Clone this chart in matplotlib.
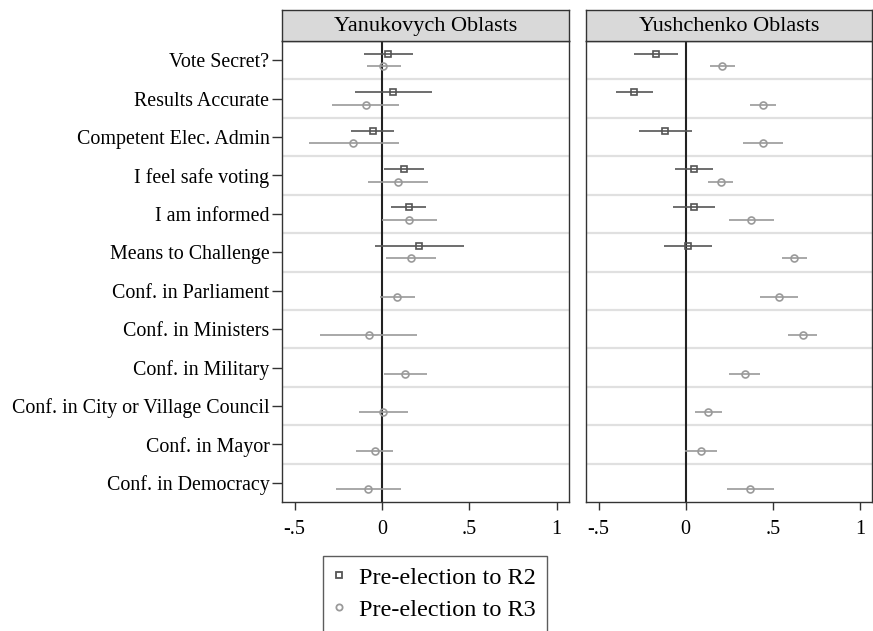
import matplotlib.pyplot as plt
import numpy as np

plt.rcParams["font.family"] = ["Liberation Serif", "DejaVu Serif"]

labels = ["Vote Secret?", "Results Accurate", "Competent Elec. Admin",
          "I feel safe voting", "I am informed", "Means to Challenge",
          "Conf. in Parliament", "Conf. in Ministers", "Conf. in Military",
          "Conf. in City or Village Council", "Conf. in Mayor", "Conf. in Democracy"]

# Yanukovych oblasts: point estimate, lower, upper
yan_r2 = [0.034, 0.061, -0.050, 0.126, 0.153, 0.212]
yan_r2_lo = [-0.100, -0.157, -0.176, 0.011, 0.050, -0.042]
yan_r2_hi = [0.176, 0.284, 0.071, 0.240, 0.254, 0.468]
yan_r3 = [0.008, -0.094, -0.164, 0.090, 0.153, 0.166, 0.084, -0.076, 0.134, 0.008, -0.042, -0.080]
yan_r3_lo = [-0.088, -0.286, -0.420, -0.082, -0.002, 0.023, -0.011, -0.355, 0.013, -0.134, -0.147, -0.261]
yan_r3_hi = [0.107, 0.095, 0.095, 0.263, 0.313, 0.309, 0.187, 0.200, 0.256, 0.147, 0.063, 0.107]

# Yushchenko oblasts
yus_r2 = [-0.170, -0.295, -0.118, 0.049, 0.046, 0.015]
yus_r2_lo = [-0.295, -0.402, -0.265, -0.059, -0.071, -0.122]
yus_r2_hi = [-0.044, -0.189, 0.036, 0.158, 0.171, 0.152]
yus_r3 = [0.209, 0.444, 0.444, 0.202, 0.375, 0.623, 0.535, 0.672, 0.339, 0.131, 0.086, 0.369]
yus_r3_lo = [0.139, 0.369, 0.329, 0.131, 0.249, 0.552, 0.428, 0.590, 0.249, 0.053, -0.002, 0.236]
yus_r3_hi = [0.284, 0.518, 0.560, 0.272, 0.508, 0.695, 0.646, 0.756, 0.428, 0.209, 0.179, 0.508]

panels = ["Yanukovych Oblasts", "Yushchenko Oblasts"]
xticks = [-0.5, 0, 0.5, 1]
xticklabels = ["-.5", "0", ".5", "1"]

c_r2 = "#555555"
c_r3 = "#9a9a9a"

W, H = 873, 631
fig = plt.figure(figsize=(W / 100, H / 100), dpi=100)


def px_box(x0, x1, y0, y1):
    return [x0 / W, 1 - y1 / H, (x1 - x0) / W, (y1 - y0) / H]


def draw_panel(ax, r2, r2lo, r2hi, r3, r3lo, r3hi, show_y):
    n = len(labels)
    pos = np.arange(1, n + 1)
    for s in np.arange(1.5, n, 1):
        ax.axhline(s, color="#e0e0e0", lw=1.6, zorder=1)
    ax.axvline(0, color="#222222", lw=1.5, zorder=2)
    p2 = pos[:len(r2)] - 0.17
    p3 = pos + 0.16
    r2 = np.array(r2)
    r3 = np.array(r3)
    ax.errorbar(r2, p2, xerr=[r2 - np.array(r2lo), np.array(r2hi) - r2], fmt="s",
                color=c_r2, ms=5, mfc="none", mec=c_r2, mew=1.2, elinewidth=1.2,
                capsize=0, zorder=3)
    ax.errorbar(r3, p3, xerr=[r3 - np.array(r3lo), np.array(r3hi) - r3], fmt="o",
                color=c_r3, ms=5, mfc="none", mec=c_r3, mew=1.2, elinewidth=1.2,
                capsize=0, zorder=3)
    ax.set_xlim(-0.572, 1.07)
    ax.set_ylim(n + 0.5, 0.5)
    ax.set_xticks(xticks)
    ax.set_xticklabels(xticklabels, fontsize=14.5)
    ax.tick_params(axis="x", direction="out", length=6, width=1, color="#333333", pad=7)
    if show_y:
        ax.set_yticks(pos)
        ax.set_yticklabels(labels, fontsize=14.4)
        ax.tick_params(axis="y", direction="out", length=7, width=1, color="#333333", pad=2)
    else:
        ax.set_yticks([])
    for sp in ax.spines.values():
        sp.set_color("#333333")
        sp.set_linewidth(1.0)


def draw_strip(rect, title):
    st = fig.add_axes(rect)
    st.set_facecolor("#d9d9d9")
    st.set_xticks([])
    st.set_yticks([])
    for sp in st.spines.values():
        sp.set_color("#333333")
        sp.set_linewidth(1.0)
    st.text(0.5, 0.47, title, ha="center", va="center", fontsize=16, transform=st.transAxes)


ax1 = fig.add_axes(px_box(282, 569, 41, 502))
ax2 = fig.add_axes(px_box(586, 872, 41, 502))
draw_panel(ax1, yan_r2, yan_r2_lo, yan_r2_hi, yan_r3, yan_r3_lo, yan_r3_hi, True)
draw_panel(ax2, yus_r2, yus_r2_lo, yus_r2_hi, yus_r3, yus_r3_lo, yus_r3_hi, False)
draw_strip(px_box(282, 569, 10, 41), panels[0])
draw_strip(px_box(586, 872, 10, 41), panels[1])

h2 = plt.Line2D([], [], marker="s", ls="none", ms=4.5, mfc="none", mec=c_r2, mew=1.3)
h3 = plt.Line2D([], [], marker="o", ls="none", ms=4.5, mfc="none", mec=c_r3, mew=1.3)
leg = fig.legend([h2, h3], ["Pre-election to R2", "Pre-election to R3"],
                 loc="upper left", bbox_to_anchor=(323 / W, 1 - 556 / H),
                 fontsize=17.5, frameon=True, fancybox=False, handlelength=0.4,
                 handletextpad=0.65, borderpad=0.45, labelspacing=0.4, borderaxespad=0)
leg.get_frame().set_edgecolor("#333333")
leg.get_frame().set_linewidth(1.0)

fig.savefig("out.png", dpi=100)
